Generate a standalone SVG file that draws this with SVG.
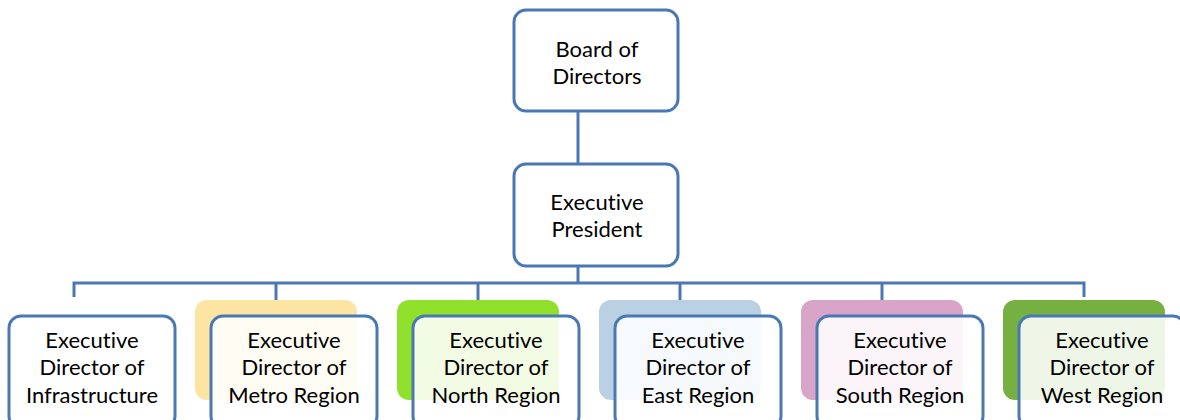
<svg xmlns="http://www.w3.org/2000/svg" width="1180" height="420" viewBox="0 0 1180 420">
  <style>
    .box { fill: #ffffff; fill-opacity: 0.88; stroke: #4a78b4; stroke-width: 3; }
    .back { stroke: none; }
    .lbl { font-family: Lato, "Liberation Sans", sans-serif; font-size: 22px; fill: #000000; text-anchor: middle; font-variant-ligatures: none; }
    .wire { fill: none; stroke: #4a78b4; stroke-width: 3; }
  </style>
  <rect width="1180" height="420" fill="#ffffff"/>

  <g id="connectors">
    <line class="wire" x1="578" y1="110" x2="578" y2="164"/>
    <line class="wire" x1="578" y1="266" x2="578" y2="283"/>
    <polyline class="wire" points="74,297 74,283 1084,283 1084,297"/>
    <line class="wire" x1="276" y1="283" x2="276" y2="300"/>
    <line class="wire" x1="478" y1="283" x2="478" y2="300"/>
    <line class="wire" x1="680" y1="283" x2="680" y2="300"/>
    <line class="wire" x1="882" y1="283" x2="882" y2="300"/>
  </g>

  <g id="board">
    <rect class="box" x="514" y="10" width="164" height="101" rx="12"/>
    <text class="lbl" x="597" y="57">Board of</text>
    <text class="lbl" x="597" y="84">Directors</text>
  </g>

  <g id="president">
    <rect class="box" x="514" y="164" width="164" height="102" rx="12"/>
    <text class="lbl" x="597" y="210">Executive</text>
    <text class="lbl" x="597" y="237">President</text>
  </g>

  <g id="infrastructure">
    <rect class="box" x="9" y="316" width="166" height="112" rx="12"/>
    <text class="lbl" x="92" y="348">Executive</text>
    <text class="lbl" x="92" y="375">Director of</text>
    <text class="lbl" x="92" y="403">Infrastructure</text>
  </g>

  <g id="metro">
    <rect class="back" x="195" y="300" width="162" height="100" rx="12" fill="#fce5a2"/>
    <rect class="box" x="211" y="316" width="166" height="112" rx="12"/>
    <text class="lbl" x="294" y="348">Executive</text>
    <text class="lbl" x="294" y="375">Director of</text>
    <text class="lbl" x="294" y="403">Metro Region</text>
  </g>

  <g id="north">
    <rect class="back" x="397" y="300" width="162" height="100" rx="12" fill="#90e02c"/>
    <rect class="box" x="413" y="316" width="166" height="112" rx="12"/>
    <text class="lbl" x="496" y="348">Executive</text>
    <text class="lbl" x="496" y="375">Director of</text>
    <text class="lbl" x="496" y="403">North Region</text>
  </g>

  <g id="east">
    <rect class="back" x="599" y="300" width="162" height="100" rx="12" fill="#b9d1e2"/>
    <rect class="box" x="615" y="316" width="166" height="112" rx="12"/>
    <text class="lbl" x="698" y="348">Executive</text>
    <text class="lbl" x="698" y="375">Director of</text>
    <text class="lbl" x="698" y="403">East Region</text>
  </g>

  <g id="south">
    <rect class="back" x="801" y="300" width="162" height="100" rx="12" fill="#d8a4c8"/>
    <rect class="box" x="817" y="316" width="166" height="112" rx="12"/>
    <text class="lbl" x="900" y="348">Executive</text>
    <text class="lbl" x="900" y="375">Director of</text>
    <text class="lbl" x="900" y="403">South Region</text>
  </g>

  <g id="west">
    <rect class="back" x="1003" y="300" width="162" height="100" rx="12" fill="#76b040"/>
    <rect class="box" x="1019" y="316" width="166" height="112" rx="12"/>
    <text class="lbl" x="1102" y="348">Executive</text>
    <text class="lbl" x="1102" y="375">Director of</text>
    <text class="lbl" x="1102" y="403">West Region</text>
  </g>
</svg>
